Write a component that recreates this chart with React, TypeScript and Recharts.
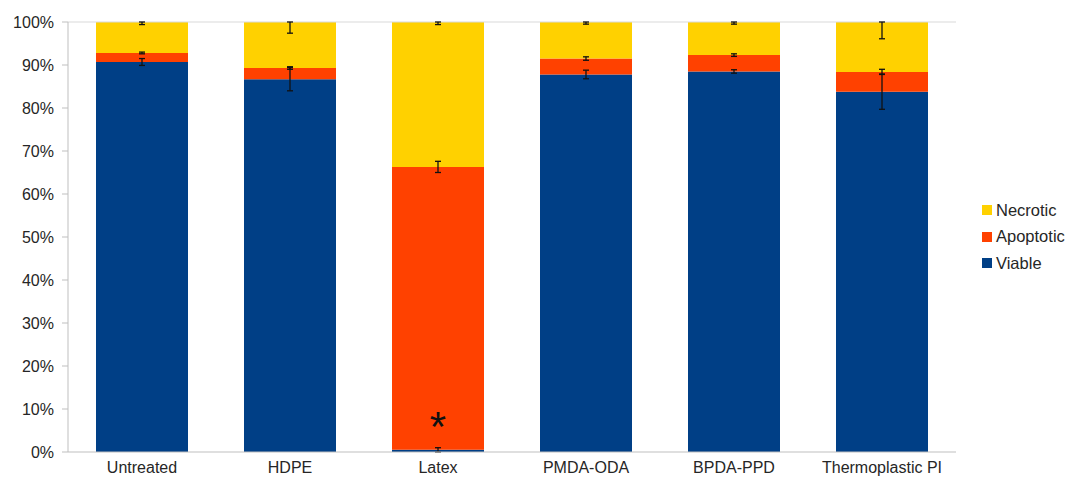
import { BarChart, Bar, XAxis, YAxis, ErrorBar, ReferenceLine, ReferenceDot } from "recharts";

const categories = ["Untreated", "HDPE", "Latex", "PMDA-ODA", "BPDA-PPD", "Thermoplastic PI"];
const viable = [90.7, 86.7, 0.5, 87.8, 88.5, 83.8];
const apoptotic = [2.1, 2.6, 65.8, 3.7, 3.8, 4.6];
const necrotic = [7.2, 10.7, 33.7, 8.5, 7.7, 11.6];
const viableErr = [0.8, 2.7, 0.5, 1.0, 0.4, 4.1];
const apoptoticErr = [0.2, 0.3, 1.3, 0.4, 0.3, 0.6];
const necroticErr = [0.6, 2.6, 0.6, 0.5, 0.5, 3.9];
const yTicks = [0, 10, 20, 30, 40, 50, 60, 70, 80, 90, 100];
const sepTicks = [0, 1, 2, 3, 4, 5, 6];

const SERIES = [
  { key: "necrotic", name: "Necrotic", color: "#FFD100" },
  { key: "apoptotic", name: "Apoptotic", color: "#FF4100" },
  { key: "viable", name: "Viable", color: "#003F86" },
];

const FONT = "'Liberation Sans', Arial, sans-serif";

const data = categories.map((c, i) => ({
  name: c,
  viable: viable[i],
  apoptotic: apoptotic[i],
  necrotic: necrotic[i],
  viableErr: [viableErr[i], viableErr[i]],
  apoptoticErr: [apoptoticErr[i], apoptoticErr[i]],
  // top of the stack is 100%: only the lower half shows
  necroticErr: [necroticErr[i], 0],
}));

function LegendBox() {
  return (
    <div style={{ position: "absolute", left: 982, top: 197, fontFamily: FONT, fontSize: 16.5, color: "#262626" }}>
      {SERIES.map((s) => (
        <div key={s.key} style={{ display: "flex", alignItems: "center", height: 26.6 }}>
          <span style={{ width: 10, height: 10, background: s.color, marginRight: 4, display: "inline-block" }} />
          {s.name}
        </div>
      ))}
    </div>
  );
}

export default function App() {
  return (
    <div style={{ position: "absolute", left: 0, top: 0, width: 1069, height: 480, background: "#fff" }}>
      <BarChart
        width={1069}
        height={480}
        data={data}
        margin={{ top: 22, right: 113, bottom: 0, left: 0 }}
        barCategoryGap={28}
      >
        <XAxis
          xAxisId="sep"
          type="number"
          domain={[0, 6]}
          ticks={sepTicks}
          tick={false}
          axisLine={false}
          tickLine={{ stroke: "#bfbfbf" }}
          tickSize={6}
          height={0}
          allowDataOverflow
        />
        <XAxis
          dataKey="name"
          tickLine={false}
          axisLine={{ stroke: "#bfbfbf" }}
          tickSize={6}
          tickMargin={4}
          height={28}
          interval={0}
          tick={{ fill: "#262626", fontSize: 16, fontFamily: FONT }}
        />
        <YAxis
          domain={[0, 100]}
          ticks={yTicks}
          tickFormatter={(v) => `${v}%`}
          width={68}
          axisLine={{ stroke: "#bfbfbf" }}
          tickLine={{ stroke: "#bfbfbf" }}
          tickSize={6}
          tickMargin={8}
          tick={{ fill: "#262626", fontSize: 16, fontFamily: FONT }}
        />
        <ReferenceLine y={100} stroke="#d9d9d9" />
        <Bar dataKey="viable" name="Viable" stackId="a" fill="#003F86" isAnimationActive={false}>
          <ErrorBar dataKey="viableErr" width={3} stroke="#111" strokeWidth={1.3} />
        </Bar>
        <Bar dataKey="apoptotic" name="Apoptotic" stackId="a" fill="#FF4100" isAnimationActive={false}>
          <ErrorBar dataKey="apoptoticErr" width={3} stroke="#111" strokeWidth={1.3} />
        </Bar>
        <Bar dataKey="necrotic" name="Necrotic" stackId="a" fill="#FFD100" isAnimationActive={false}>
          <ErrorBar dataKey="necroticErr" width={3} stroke="#111" strokeWidth={1.3} />
        </Bar>
        <ReferenceDot
          x="Latex"
          y={6}
          r={0}
          label={{ value: "*", position: "center", fontSize: 42, fill: "#111", fontFamily: FONT }}
        />
      </BarChart>
      <LegendBox />
    </div>
  );
}
